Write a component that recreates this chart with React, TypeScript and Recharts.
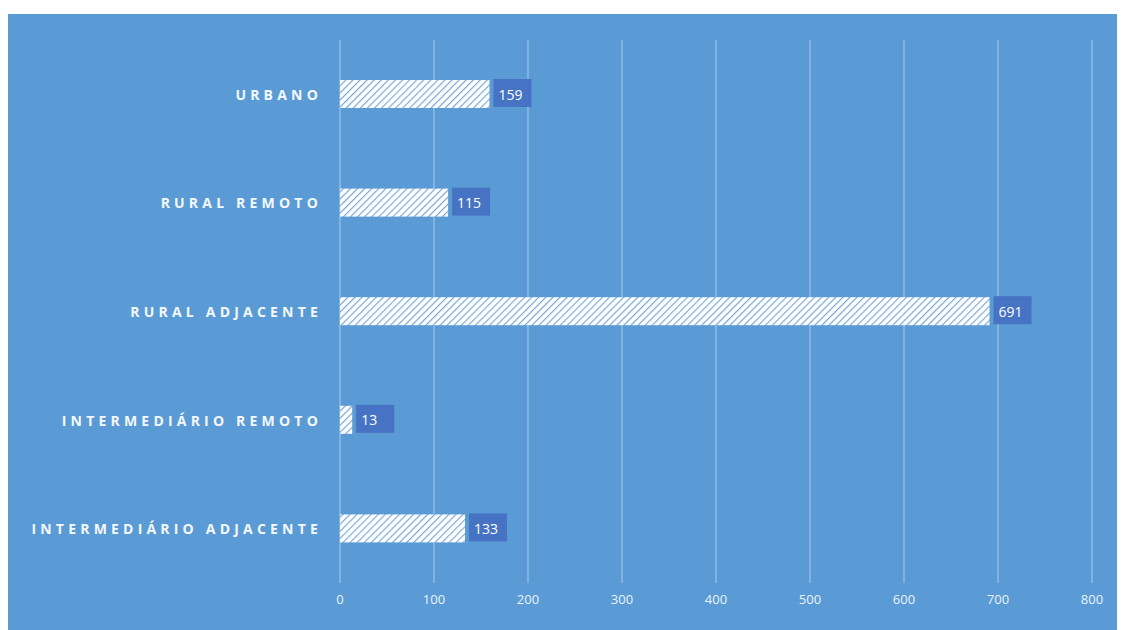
import { BarChart, Bar, XAxis, YAxis, CartesianGrid, LabelList } from 'recharts';

const categories = [
  'URBANO',
  'RURAL REMOTO',
  'RURAL ADJACENTE',
  'INTERMEDIÁRIO REMOTO',
  'INTERMEDIÁRIO ADJACENTE',
];
const counts = [159, 115, 691, 13, 133];
const xTicks = [0, 100, 200, 300, 400, 500, 600, 700, 800];

const data = categories.map((name, i) => ({ name, value: counts[i] }));

const BG = '#5b9bd5';
const BOX = '#4673c3';

function HatchBar(props: any) {
  const { x, y, width, height, index } = props;
  const id = `hatch-${index}`;
  return (
    <g>
      <defs>
        <pattern id={id} width={5} height={5} patternUnits="userSpaceOnUse" patternTransform="rotate(45)">
          <rect width={5} height={5} fill="#ffffff" />
          <line x1={0} y1={0} x2={0} y2={5} stroke="#7aa9d8" strokeWidth={2.4} />
        </pattern>
      </defs>
      <rect x={x} y={y} width={width} height={height} fill={`url(#${id})`} />
    </g>
  );
}

function ValueBox(props: any) {
  const { x, y, width, height, value } = props;
  const bx = x + width + 4;
  return (
    <g>
      <rect x={bx} y={y - 1} width={38} height={height} fill={BOX} />
      <text
        x={bx + 5}
        y={y + height / 2}
        dominantBaseline="central"
        fill="#ffffff"
        fontSize={14}
        fontFamily="'Open Sans', sans-serif"
      >
        {value}
      </text>
    </g>
  );
}

function CategoryTick(props: any) {
  const { x, y, payload } = props;
  return (
    <text
      x={x - 10}
      y={y}
      textAnchor="end"
      dominantBaseline="central"
      fill="#f4f8fd"
      fontSize={14}
      fontWeight="bold"
      letterSpacing={4.2}
      fontFamily="'Open Sans', sans-serif"
    >
      {payload.value}
    </text>
  );
}

export default function App() {
  return (
    <div style={{ marginTop: 6, width: 1117, height: 616, background: BG }}>
      <BarChart
        width={1117}
        height={616}
        data={data}
        layout="vertical"
        margin={{ top: 26, right: 33, bottom: 17, left: 0 }}
        barSize={28}
      >
        <CartesianGrid horizontal={false} stroke="#a8c8ea" strokeWidth={1} />
        <XAxis
          type="number"
          domain={[0, 800]}
          ticks={xTicks}
          axisLine={false}
          tickLine={false}
          tick={{ fill: '#eaf2fb', fontSize: 13, fontFamily: "'Open Sans', sans-serif" }}
          tickMargin={6}
          height={30}
        />
        <YAxis
          type="category"
          dataKey="name"
          width={332}
          axisLine={false}
          tickLine={false}
          tick={<CategoryTick />}
        />
        <Bar dataKey="value" shape={<HatchBar />} isAnimationActive={false}>
          <LabelList dataKey="value" content={<ValueBox />} />
        </Bar>
      </BarChart>
    </div>
  );
}
